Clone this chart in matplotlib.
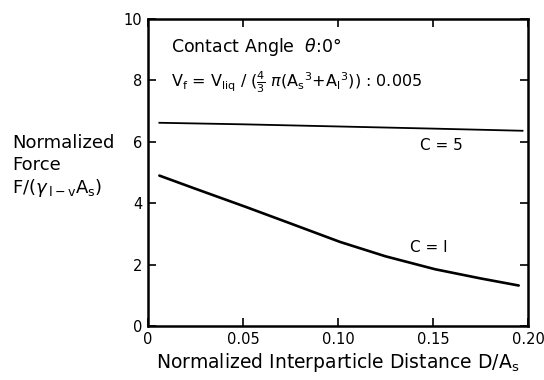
import matplotlib
matplotlib.use("Agg")
import matplotlib.pyplot as plt

# Normalized interparticle distance D/A_s and normalized force
dist_c5 = [0.006, 0.05, 0.10, 0.15, 0.197]
force_c5 = [6.62, 6.57, 6.50, 6.43, 6.36]

dist_c1 = [0.006, 0.025, 0.051, 0.075, 0.101, 0.125, 0.151, 0.175, 0.195]
force_c1 = [4.90, 4.47, 3.89, 3.34, 2.74, 2.27, 1.85, 1.55, 1.32]

x_ticks = [0, 0.05, 0.10, 0.15, 0.20]
x_tick_labels = ["0", "0.05", "0.10", "0.15", "0.20"]
y_ticks = [0, 2, 4, 6, 8, 10]
y_tick_labels = ["0", "2", "4", "6", "8", "10"]

plt.rcParams["font.family"] = ["DejaVu Sans"]
plt.rcParams["mathtext.fontset"] = "dejavusans"

fig = plt.figure(figsize=(5.44, 3.80), dpi=100)
ax = fig.add_axes([0.272, 0.142, 0.699, 0.808])

ax.plot(dist_c5, force_c5, color="black", lw=1.3, solid_joinstyle="round")
ax.plot(dist_c1, force_c1, color="black", lw=1.9, solid_joinstyle="round",
        solid_capstyle="round")

ax.set_xlim(0, 0.20)
ax.set_ylim(0, 10)
ax.set_xticks(x_ticks)
ax.set_xticklabels(x_tick_labels)
ax.set_yticks(y_ticks)
ax.set_yticklabels(y_tick_labels)
ax.tick_params(direction="in", length=6, width=1.2, labelsize=10.5,
               top=True, right=True, pad=4)
for s in ax.spines.values():
    s.set_linewidth(1.8)

ax.text(0.143, 5.87, "C = 5", fontsize=11, ha="left", va="center")
ax.text(0.138, 2.56, "C = I", fontsize=11, ha="left", va="center")

ax.text(0.012, 9.1, r"Contact Angle  $\theta$:0°", fontsize=12.5,
        ha="left", va="center")
ax.text(0.012, 7.95,
        r"V$_\mathrm{f}$ = V$_\mathrm{liq}$ / ($\frac{4}{3}$ $\pi$(A$_\mathrm{s}$$^3$+A$_\mathrm{l}$$^3$)) : 0.005",
        fontsize=11.5, ha="left", va="center")

fig.text(0.022, 0.625, "Normalized", fontsize=13, ha="left", va="center")
fig.text(0.022, 0.566, "Force", fontsize=13, ha="left", va="center")
fig.text(0.022, 0.505, r"F/($\gamma_{\,\mathrm{l-v}}$A$_\mathrm{s}$)",
         fontsize=13, ha="left", va="center")

ax.set_xlabel(r"Normalized Interparticle Distance D/A$_\mathrm{s}$",
              fontsize=13.5, labelpad=3)

fig.savefig("out.png", dpi=100)
